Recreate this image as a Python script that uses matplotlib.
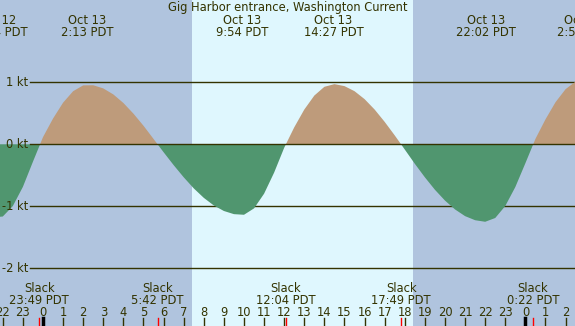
import numpy as np
import matplotlib
matplotlib.use('Agg')
import matplotlib.pyplot as plt

# current speed (kt) every half hour, hours from Oct 13 00:00 PDT
hours = np.arange(-2.5, 27.0, 0.5)
speed = [-1.18, -1.165, -0.996, -0.687, -0.281, 0.115, 0.415, 0.671, 0.856, 0.950,
         0.952, 0.901, 0.804, 0.666, 0.494, 0.299, 0.086, -0.128, -0.336, -0.532,
         -0.711, -0.864, -0.987, -1.076, -1.127, -1.137, -1.034, -0.797, -0.456, -0.056,
         0.273, 0.560, 0.786, 0.927, 0.970, 0.938, 0.856, 0.728, 0.560, 0.361,
         0.143, -0.085, -0.315, -0.533, -0.734, -0.908, -1.051, -1.159, -1.225, -1.250,
         -1.189, -0.995, -0.689, -0.305, 0.087, 0.402, 0.679, 0.889, 1.012]
speed = np.array(speed)

# max flood / ebb events
max_hours = [-2.27, 2.22, 9.9, 14.45, 22.03, 26.87]
max_days = ['Oct 12', 'Oct 13', 'Oct 13', 'Oct 13', 'Oct 13', 'Oct 14']
max_labels = ['21:44 PDT', '2:13 PDT', '9:54 PDT', '14:27 PDT', '22:02 PDT', '2:52 PDT']

# slack events
slack_hours = [-0.183, 5.7, 12.067, 17.817, 24.367]
slack_labels = ['23:49 PDT', '5:42 PDT', '12:04 PDT', '17:49 PDT', '0:22 PDT']

sunrise, sunset = 7.41, 18.42
kt_levels = [1, 0, -1, -2]

night = '#b0c4de'
day = '#dff7fe'
flood = '#be9b7b'
ebb = '#50966f'
ink = '#333300'
fs = 8.3

fig = plt.figure(figsize=(5.75, 3.26), dpi=100)
ax = fig.add_axes([0, 0, 1, 1])
x0, x1 = -2.139, 26.468
ax.set_xlim(x0, x1)
ax.set_ylim(-2.931, 2.327)
ax.axis('off')

ax.axvspan(-5, sunrise, color=night, lw=0, zorder=0)
ax.axvspan(sunrise, sunset, color=day, lw=0, zorder=0)
ax.axvspan(sunset, 30, color=night, lw=0, zorder=0)

# kt grid lines with labels
line_start = x0 + 30 / 20.1
for v in kt_levels:
    ax.plot([line_start, 30], [v, v], color=ink, lw=1, zorder=3 if v == 0 else 1)
    ax.text(0.0487, v, f'{v} kt', transform=ax.get_yaxis_transform(),
            ha='right', va='center', fontsize=fs, color=ink)

ax.fill_between(hours, speed, 0, where=speed >= 0, interpolate=True,
                color=flood, lw=0, zorder=2)
ax.fill_between(hours, speed, 0, where=speed <= 0, interpolate=True,
                color=ebb, lw=0, zorder=2)

tr = ax.get_xaxis_transform()
ax.text((x0 + x1) / 2, 0.9672, 'Gig Harbor entrance, Washington Current', transform=tr,
        ha='center', va='baseline', fontsize=fs, color=ink)
for h, d, lab in zip(max_hours, max_days, max_labels):
    ax.text(h, 0.9264, d, transform=tr, ha='center', va='baseline', fontsize=fs, color=ink)
    ax.text(h, 0.8896, lab, transform=tr, ha='center', va='baseline', fontsize=fs, color=ink)

for h, lab in zip(slack_hours, slack_labels):
    ax.text(h, 0.1052, 'Slack', transform=tr, ha='center', va='baseline', fontsize=fs, color=ink)
    ax.text(h, 0.0675, lab, transform=tr, ha='center', va='baseline', fontsize=fs, color=ink)
    ax.plot([h, h], [0, 0.0245], transform=tr, color='red', lw=1, zorder=5)

# hour ticks along the bottom
for h in range(-2, 27):
    ax.text(h, 0.0307, str(h % 24), transform=tr, ha='center', va='baseline',
            fontsize=fs, color=ink)
    if h % 24 == 0:
        ax.plot([h, h], [0, 0.0245], transform=tr, color='black', lw=2.5, zorder=4)
    else:
        ax.plot([h, h], [0, 0.0245], transform=tr, color=ink, lw=1, zorder=4)

fig.savefig('out.png', dpi=100)
